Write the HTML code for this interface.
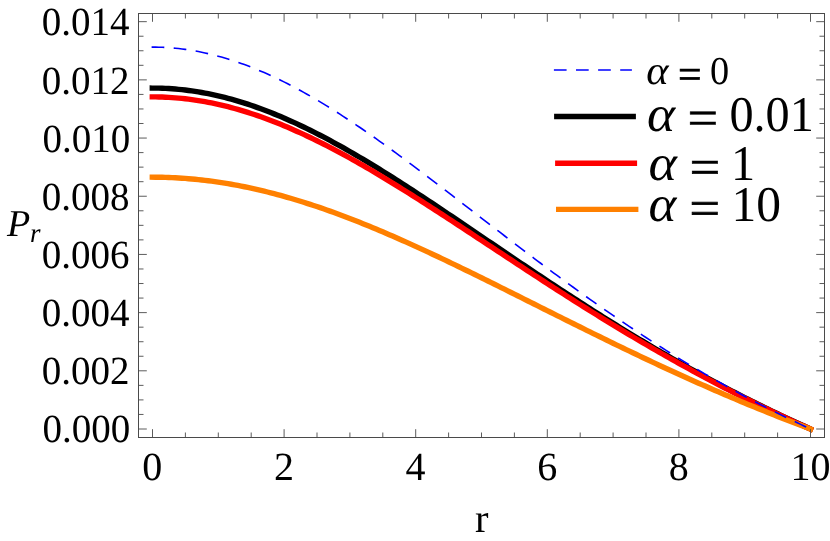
<!DOCTYPE html>
<html><head><meta charset="utf-8"><title>Pr vs r</title>
<style>
html,body{margin:0;padding:0;background:#fff;}
body{width:830px;height:541px;overflow:hidden;}
svg{display:block;will-change:transform;}
text{font-family:"Liberation Serif",serif;fill:#000;text-rendering:geometricPrecision;}
</style></head><body>
<svg width="830" height="541" viewBox="0 0 830 541">
<rect x="0" y="0" width="830" height="541" fill="#ffffff"/>
<path d="M152.30 88.08 L155.59 88.09 L158.88 88.15 L162.17 88.25 L165.46 88.39 L168.75 88.57 L172.05 88.78 L175.34 89.04 L178.63 89.33 L181.92 89.67 L185.21 90.04 L188.50 90.45 L191.79 90.90 L195.08 91.38 L198.37 91.91 L201.67 92.47 L204.96 93.07 L208.25 93.71 L211.54 94.39 L214.83 95.10 L218.12 95.85 L221.41 96.63 L224.70 97.46 L227.99 98.31 L231.28 99.21 L234.57 100.13 L237.87 101.10 L241.16 102.09 L244.45 103.12 L247.74 104.19 L251.03 105.29 L254.32 106.42 L257.61 107.58 L260.90 108.78 L264.19 110.00 L267.49 111.26 L270.78 112.55 L274.07 113.87 L277.36 115.22 L280.65 116.60 L283.94 118.01 L287.23 119.44 L290.52 120.91 L293.81 122.40 L297.10 123.92 L300.39 125.46 L303.69 127.04 L306.98 128.63 L310.27 130.25 L313.56 131.90 L316.85 133.57 L320.14 135.26 L323.43 136.98 L326.72 138.72 L330.01 140.48 L333.31 142.26 L336.60 144.07 L339.89 145.89 L343.18 147.73 L346.47 149.60 L349.76 151.48 L353.05 153.38 L356.34 155.29 L359.63 157.23 L362.92 159.18 L366.21 161.15 L369.51 163.13 L372.80 165.13 L376.09 167.14 L379.38 169.17 L382.67 171.21 L385.96 173.26 L389.25 175.33 L392.54 177.40 L395.83 179.49 L399.12 181.59 L402.42 183.71 L405.71 185.83 L409.00 187.96 L412.29 190.10 L415.58 192.25 L418.87 194.40 L422.16 196.57 L425.45 198.74 L428.74 200.92 L432.03 203.11 L435.33 205.30 L438.62 207.49 L441.91 209.70 L445.20 211.90 L448.49 214.12 L451.78 216.33 L455.07 218.55 L458.36 220.77 L461.65 223.00 L464.94 225.23 L468.24 227.46 L471.53 229.69 L474.82 231.92 L478.11 234.15 L481.40 236.39 L484.69 238.62 L487.98 240.86 L491.27 243.09 L494.56 245.32 L497.85 247.56 L501.15 249.79 L504.44 252.02 L507.73 254.24 L511.02 256.47 L514.31 258.69 L517.60 260.91 L520.89 263.13 L524.18 265.34 L527.47 267.56 L530.76 269.76 L534.06 271.97 L537.35 274.16 L540.64 276.36 L543.93 278.55 L547.22 280.73 L550.51 282.91 L553.80 285.08 L557.09 287.25 L560.38 289.42 L563.67 291.57 L566.97 293.72 L570.26 295.87 L573.55 298.01 L576.84 300.14 L580.13 302.26 L583.42 304.38 L586.71 306.49 L590.00 308.59 L593.29 310.69 L596.59 312.78 L599.88 314.86 L603.17 316.93 L606.46 319.00 L609.75 321.05 L613.04 323.10 L616.33 325.14 L619.62 327.18 L622.91 329.20 L626.20 331.22 L629.49 333.22 L632.79 335.22 L636.08 337.21 L639.37 339.19 L642.66 341.16 L645.95 343.12 L649.24 345.08 L652.53 347.02 L655.82 348.96 L659.11 350.88 L662.40 352.80 L665.70 354.71 L668.99 356.60 L672.28 358.49 L675.57 360.37 L678.86 362.24 L682.15 364.10 L685.44 365.95 L688.73 367.79 L692.02 369.62 L695.32 371.44 L698.61 373.25 L701.90 375.05 L705.19 376.84 L708.48 378.62 L711.77 380.40 L715.06 382.16 L718.35 383.91 L721.64 385.65 L724.93 387.38 L728.22 389.11 L731.52 390.82 L734.81 392.52 L738.10 394.22 L741.39 395.90 L744.68 397.57 L747.97 399.24 L751.26 400.89 L754.55 402.53 L757.84 404.17 L761.13 405.79 L764.43 407.41 L767.72 409.01 L771.01 410.61 L774.30 412.19 L777.59 413.77 L780.88 415.33 L784.17 416.89 L787.46 418.44 L790.75 419.98 L794.04 421.50 L797.34 423.02 L800.63 424.53 L803.92 426.03 L807.21 427.52 L810.50 429.00" fill="none" stroke="#000000" stroke-width="5.4" stroke-linejoin="round" stroke-linecap="square"/>
<path d="M152.30 96.90 L155.59 96.92 L158.88 96.97 L162.17 97.07 L165.46 97.20 L168.75 97.37 L172.05 97.58 L175.34 97.82 L178.63 98.11 L181.92 98.43 L185.21 98.78 L188.50 99.18 L191.79 99.61 L195.08 100.08 L198.37 100.58 L201.67 101.13 L204.96 101.70 L208.25 102.32 L211.54 102.97 L214.83 103.65 L218.12 104.37 L221.41 105.13 L224.70 105.92 L227.99 106.74 L231.28 107.60 L234.57 108.50 L237.87 109.42 L241.16 110.38 L244.45 111.37 L247.74 112.40 L251.03 113.46 L254.32 114.55 L257.61 115.67 L260.90 116.82 L264.19 118.00 L267.49 119.21 L270.78 120.45 L274.07 121.72 L277.36 123.02 L280.65 124.35 L283.94 125.71 L287.23 127.09 L290.52 128.50 L293.81 129.94 L297.10 131.41 L300.39 132.90 L303.69 134.41 L306.98 135.95 L310.27 137.52 L313.56 139.10 L316.85 140.72 L320.14 142.35 L323.43 144.01 L326.72 145.69 L330.01 147.38 L333.31 149.11 L336.60 150.85 L339.89 152.61 L343.18 154.39 L346.47 156.19 L349.76 158.00 L353.05 159.84 L356.34 161.69 L359.63 163.56 L362.92 165.45 L366.21 167.35 L369.51 169.27 L372.80 171.20 L376.09 173.15 L379.38 175.11 L382.67 177.08 L385.96 179.07 L389.25 181.07 L392.54 183.08 L395.83 185.10 L399.12 187.13 L402.42 189.18 L405.71 191.23 L409.00 193.30 L412.29 195.37 L415.58 197.45 L418.87 199.54 L422.16 201.64 L425.45 203.75 L428.74 205.86 L432.03 207.98 L435.33 210.11 L438.62 212.24 L441.91 214.38 L445.20 216.52 L448.49 218.67 L451.78 220.82 L455.07 222.97 L458.36 225.13 L461.65 227.29 L464.94 229.46 L468.24 231.62 L471.53 233.79 L474.82 235.96 L478.11 238.13 L481.40 240.30 L484.69 242.48 L487.98 244.65 L491.27 246.82 L494.56 249.00 L497.85 251.17 L501.15 253.34 L504.44 255.51 L507.73 257.68 L511.02 259.85 L514.31 262.01 L517.60 264.18 L520.89 266.34 L524.18 268.50 L527.47 270.65 L530.76 272.80 L534.06 274.95 L537.35 277.09 L540.64 279.23 L543.93 281.37 L547.22 283.50 L550.51 285.63 L553.80 287.75 L557.09 289.87 L560.38 291.98 L563.67 294.08 L566.97 296.18 L570.26 298.28 L573.55 300.37 L576.84 302.45 L580.13 304.53 L583.42 306.60 L586.71 308.66 L590.00 310.72 L593.29 312.77 L596.59 314.81 L599.88 316.84 L603.17 318.87 L606.46 320.89 L609.75 322.91 L613.04 324.91 L616.33 326.91 L619.62 328.90 L622.91 330.88 L626.20 332.86 L629.49 334.82 L632.79 336.78 L636.08 338.73 L639.37 340.67 L642.66 342.60 L645.95 344.53 L649.24 346.44 L652.53 348.35 L655.82 350.25 L659.11 352.13 L662.40 354.01 L665.70 355.89 L668.99 357.75 L672.28 359.60 L675.57 361.45 L678.86 363.28 L682.15 365.11 L685.44 366.92 L688.73 368.73 L692.02 370.53 L695.32 372.32 L698.61 374.10 L701.90 375.87 L705.19 377.63 L708.48 379.38 L711.77 381.12 L715.06 382.85 L718.35 384.58 L721.64 386.29 L724.93 387.99 L728.22 389.69 L731.52 391.37 L734.81 393.05 L738.10 394.72 L741.39 396.37 L744.68 398.02 L747.97 399.66 L751.26 401.29 L754.55 402.91 L757.84 404.52 L761.13 406.12 L764.43 407.71 L767.72 409.29 L771.01 410.86 L774.30 412.42 L777.59 413.98 L780.88 415.52 L784.17 417.05 L787.46 418.58 L790.75 420.10 L794.04 421.60 L797.34 423.10 L800.63 424.59 L803.92 426.07 L807.21 427.54 L810.50 429.00" fill="none" stroke="#ff0000" stroke-width="5.4" stroke-linejoin="round" stroke-linecap="square"/>
<path d="M152.30 177.19 L155.59 177.21 L158.88 177.24 L162.17 177.30 L165.46 177.39 L168.75 177.50 L172.05 177.64 L175.34 177.80 L178.63 177.99 L181.92 178.20 L185.21 178.43 L188.50 178.69 L191.79 178.98 L195.08 179.29 L198.37 179.62 L201.67 179.98 L204.96 180.36 L208.25 180.76 L211.54 181.19 L214.83 181.64 L218.12 182.12 L221.41 182.62 L224.70 183.14 L227.99 183.69 L231.28 184.26 L234.57 184.85 L237.87 185.47 L241.16 186.10 L244.45 186.76 L247.74 187.45 L251.03 188.15 L254.32 188.88 L257.61 189.63 L260.90 190.40 L264.19 191.19 L267.49 192.00 L270.78 192.83 L274.07 193.69 L277.36 194.56 L280.65 195.45 L283.94 196.37 L287.23 197.30 L290.52 198.26 L293.81 199.23 L297.10 200.22 L300.39 201.23 L303.69 202.26 L306.98 203.31 L310.27 204.37 L313.56 205.45 L316.85 206.56 L320.14 207.67 L323.43 208.81 L326.72 209.96 L330.01 211.13 L333.31 212.31 L336.60 213.51 L339.89 214.73 L343.18 215.96 L346.47 217.21 L349.76 218.47 L353.05 219.74 L356.34 221.03 L359.63 222.34 L362.92 223.65 L366.21 224.98 L369.51 226.33 L372.80 227.68 L376.09 229.05 L379.38 230.43 L382.67 231.83 L385.96 233.23 L389.25 234.65 L392.54 236.07 L395.83 237.51 L399.12 238.96 L402.42 240.42 L405.71 241.89 L409.00 243.37 L412.29 244.85 L415.58 246.35 L418.87 247.86 L422.16 249.37 L425.45 250.89 L428.74 252.42 L432.03 253.96 L435.33 255.50 L438.62 257.06 L441.91 258.62 L445.20 260.18 L448.49 261.75 L451.78 263.33 L455.07 264.92 L458.36 266.50 L461.65 268.10 L464.94 269.70 L468.24 271.30 L471.53 272.91 L474.82 274.53 L478.11 276.14 L481.40 277.76 L484.69 279.39 L487.98 281.02 L491.27 282.65 L494.56 284.28 L497.85 285.92 L501.15 287.56 L504.44 289.20 L507.73 290.84 L511.02 292.48 L514.31 294.13 L517.60 295.78 L520.89 297.43 L524.18 299.07 L527.47 300.72 L530.76 302.37 L534.06 304.02 L537.35 305.67 L540.64 307.32 L543.93 308.97 L547.22 310.62 L550.51 312.27 L553.80 313.92 L557.09 315.56 L560.38 317.21 L563.67 318.85 L566.97 320.49 L570.26 322.13 L573.55 323.77 L576.84 325.41 L580.13 327.04 L583.42 328.67 L586.71 330.30 L590.00 331.92 L593.29 333.55 L596.59 335.17 L599.88 336.78 L603.17 338.39 L606.46 340.00 L609.75 341.61 L613.04 343.21 L616.33 344.81 L619.62 346.40 L622.91 347.99 L626.20 349.58 L629.49 351.16 L632.79 352.74 L636.08 354.31 L639.37 355.88 L642.66 357.44 L645.95 359.00 L649.24 360.55 L652.53 362.10 L655.82 363.64 L659.11 365.18 L662.40 366.71 L665.70 368.24 L668.99 369.76 L672.28 371.27 L675.57 372.78 L678.86 374.28 L682.15 375.78 L685.44 377.27 L688.73 378.76 L692.02 380.24 L695.32 381.71 L698.61 383.18 L701.90 384.64 L705.19 386.09 L708.48 387.54 L711.77 388.98 L715.06 390.42 L718.35 391.85 L721.64 393.27 L724.93 394.68 L728.22 396.09 L731.52 397.49 L734.81 398.89 L738.10 400.28 L741.39 401.66 L744.68 403.03 L747.97 404.40 L751.26 405.76 L754.55 407.11 L757.84 408.45 L761.13 409.79 L764.43 411.12 L767.72 412.45 L771.01 413.77 L774.30 415.08 L777.59 416.38 L780.88 417.67 L784.17 418.96 L787.46 420.24 L790.75 421.51 L794.04 422.78 L797.34 424.04 L800.63 425.29 L803.92 426.53 L807.21 427.77 L810.50 429.00" fill="none" stroke="#ff8000" stroke-width="5.4" stroke-linejoin="round" stroke-linecap="square"/>
<path d="M151.60 47.11 L152.30 47.11 L155.59 47.13 L158.88 47.20 L162.17 47.32 L165.46 47.48 L168.75 47.68 L172.05 47.94 L175.34 48.23 L178.63 48.57 L181.92 48.96 L185.21 49.40 L188.50 49.87 L191.79 50.40 L195.08 50.96 L198.37 51.57 L201.67 52.23 L204.96 52.93 L208.25 53.67 L211.54 54.46 L214.83 55.28 L218.12 56.15 L221.41 57.07 L224.70 58.02 L227.99 59.02 L231.28 60.06 L234.57 61.14 L237.87 62.26 L241.16 63.41 L244.45 64.61 L247.74 65.85 L251.03 67.13 L254.32 68.44 L257.61 69.79 L260.90 71.18 L264.19 72.60 L267.49 74.06 L270.78 75.56 L274.07 77.09 L277.36 78.66 L280.65 80.26 L283.94 81.89 L287.23 83.56 L290.52 85.26 L293.81 86.99 L297.10 88.75 L300.39 90.54 L303.69 92.36 L306.98 94.21 L310.27 96.09 L313.56 97.99 L316.85 99.93 L320.14 101.89 L323.43 103.88 L326.72 105.89 L330.01 107.92 L333.31 109.99 L336.60 112.07 L339.89 114.18 L343.18 116.31 L346.47 118.46 L349.76 120.64 L353.05 122.83 L356.34 125.04 L359.63 127.28 L362.92 129.53 L366.21 131.80 L369.51 134.08 L372.80 136.39 L376.09 138.70 L379.38 141.04 L382.67 143.39 L385.96 145.75 L389.25 148.13 L392.54 150.52 L395.83 152.93 L399.12 155.34 L402.42 157.77 L405.71 160.20 L409.00 162.65 L412.29 165.11 L415.58 167.58 L418.87 170.05 L422.16 172.53 L425.45 175.02 L428.74 177.52 L432.03 180.02 L435.33 182.53 L438.62 185.05 L441.91 187.57 L445.20 190.09 L448.49 192.62 L451.78 195.15 L455.07 197.69 L458.36 200.22 L461.65 202.76 L464.94 205.30 L468.24 207.84 L471.53 210.39 L474.82 212.93 L478.11 215.47 L481.40 218.01 L484.69 220.55 L487.98 223.09 L491.27 225.63 L494.56 228.16 L497.85 230.70 L501.15 233.23 L504.44 235.75 L507.73 238.28 L511.02 240.80 L514.31 243.31 L517.60 245.82 L520.89 248.33 L524.18 250.83 L527.47 253.32 L530.76 255.81 L534.06 258.29 L537.35 260.77 L540.64 263.24 L543.93 265.70 L547.22 268.16 L550.51 270.61 L553.80 273.05 L557.09 275.48 L560.38 277.90 L563.67 280.32 L566.97 282.73 L570.26 285.13 L573.55 287.51 L576.84 289.90 L580.13 292.27 L583.42 294.63 L586.71 296.98 L590.00 299.32 L593.29 301.65 L596.59 303.97 L599.88 306.29 L603.17 308.59 L606.46 310.88 L609.75 313.16 L613.04 315.42 L616.33 317.68 L619.62 319.93 L622.91 322.16 L626.20 324.38 L629.49 326.59 L632.79 328.79 L636.08 330.98 L639.37 333.16 L642.66 335.32 L645.95 337.47 L649.24 339.62 L652.53 341.74 L655.82 343.86 L659.11 345.96 L662.40 348.05 L665.70 350.13 L668.99 352.20 L672.28 354.25 L675.57 356.29 L678.86 358.32 L682.15 360.34 L685.44 362.34 L688.73 364.33 L692.02 366.31 L695.32 368.27 L698.61 370.23 L701.90 372.17 L705.19 374.09 L708.48 376.01 L711.77 377.91 L715.06 379.80 L718.35 381.67 L721.64 383.53 L724.93 385.38 L728.22 387.22 L731.52 389.04 L734.81 390.85 L738.10 392.65 L741.39 394.44 L744.68 396.21 L747.97 397.97 L751.26 399.71 L754.55 401.45 L757.84 403.17 L761.13 404.88 L764.43 406.57 L767.72 408.26 L771.01 409.93 L774.30 411.59 L777.59 413.23 L780.88 414.86 L784.17 416.48 L787.46 418.09 L790.75 419.69 L794.04 421.27 L797.34 422.84 L800.63 424.40 L803.92 425.94 L807.21 427.48 L810.50 429.00" fill="none" stroke="#0000ff" stroke-width="1.6" stroke-linejoin="round" stroke-dasharray="12.7 9.44" stroke-linecap="butt"/>
<rect x="138.50" y="13.50" width="686.00" height="424.00" fill="none" stroke="#4a4a4a" stroke-width="1"/>
<path d="M152.50 437.50 V429.20 M152.50 13.50 V21.80 M185.40 437.50 V432.50 M185.40 13.50 V18.50 M218.30 437.50 V432.50 M218.30 13.50 V18.50 M251.20 437.50 V432.50 M251.20 13.50 V18.50 M284.10 437.50 V429.20 M284.10 13.50 V21.80 M317.00 437.50 V432.50 M317.00 13.50 V18.50 M349.90 437.50 V432.50 M349.90 13.50 V18.50 M382.80 437.50 V432.50 M382.80 13.50 V18.50 M415.70 437.50 V429.20 M415.70 13.50 V21.80 M448.60 437.50 V432.50 M448.60 13.50 V18.50 M481.50 437.50 V432.50 M481.50 13.50 V18.50 M514.40 437.50 V432.50 M514.40 13.50 V18.50 M547.30 437.50 V429.20 M547.30 13.50 V21.80 M580.20 437.50 V432.50 M580.20 13.50 V18.50 M613.10 437.50 V432.50 M613.10 13.50 V18.50 M646.00 437.50 V432.50 M646.00 13.50 V18.50 M678.90 437.50 V429.20 M678.90 13.50 V21.80 M711.80 437.50 V432.50 M711.80 13.50 V18.50 M744.70 437.50 V432.50 M744.70 13.50 V18.50 M777.60 437.50 V432.50 M777.60 13.50 V18.50 M810.50 437.50 V429.20 M810.50 13.50 V21.80 M138.50 429.00 H146.80 M824.50 429.00 H816.20 M138.50 414.45 H143.50 M824.50 414.45 H819.50 M138.50 399.90 H143.50 M824.50 399.90 H819.50 M138.50 385.36 H143.50 M824.50 385.36 H819.50 M138.50 370.81 H146.80 M824.50 370.81 H816.20 M138.50 356.26 H143.50 M824.50 356.26 H819.50 M138.50 341.72 H143.50 M824.50 341.72 H819.50 M138.50 327.17 H143.50 M824.50 327.17 H819.50 M138.50 312.62 H146.80 M824.50 312.62 H816.20 M138.50 298.07 H143.50 M824.50 298.07 H819.50 M138.50 283.52 H143.50 M824.50 283.52 H819.50 M138.50 268.98 H143.50 M824.50 268.98 H819.50 M138.50 254.43 H146.80 M824.50 254.43 H816.20 M138.50 239.88 H143.50 M824.50 239.88 H819.50 M138.50 225.34 H143.50 M824.50 225.34 H819.50 M138.50 210.79 H143.50 M824.50 210.79 H819.50 M138.50 196.24 H146.80 M824.50 196.24 H816.20 M138.50 181.69 H143.50 M824.50 181.69 H819.50 M138.50 167.14 H143.50 M824.50 167.14 H819.50 M138.50 152.60 H143.50 M824.50 152.60 H819.50 M138.50 138.05 H146.80 M824.50 138.05 H816.20 M138.50 123.50 H143.50 M824.50 123.50 H819.50 M138.50 108.96 H143.50 M824.50 108.96 H819.50 M138.50 94.41 H143.50 M824.50 94.41 H819.50 M138.50 79.86 H146.80 M824.50 79.86 H816.20 M138.50 65.31 H143.50 M824.50 65.31 H819.50 M138.50 50.76 H143.50 M824.50 50.76 H819.50 M138.50 36.22 H143.50 M824.50 36.22 H819.50 M138.50 21.67 H146.80 M824.50 21.67 H816.20" fill="none" stroke="#4a4a4a" stroke-width="0.9"/>
<text transform="translate(130.20 442.30) scale(0.975 1)" font-size="40" text-anchor="end">0.000</text>
<text transform="translate(129.60 384.17) scale(0.975 1)" font-size="40" text-anchor="end">0.002</text>
<text transform="translate(129.60 326.04) scale(0.975 1)" font-size="40" text-anchor="end">0.004</text>
<text transform="translate(129.60 267.92) scale(0.975 1)" font-size="40" text-anchor="end">0.006</text>
<text transform="translate(129.60 209.79) scale(0.975 1)" font-size="40" text-anchor="end">0.008</text>
<text transform="translate(130.20 151.66) scale(0.975 1)" font-size="40" text-anchor="end">0.010</text>
<text transform="translate(129.60 93.53) scale(0.975 1)" font-size="40" text-anchor="end">0.012</text>
<text transform="translate(129.60 35.40) scale(0.975 1)" font-size="40" text-anchor="end">0.014</text>
<text x="152.30" y="479.8" font-size="40" text-anchor="middle">0</text>
<text x="283.94" y="479.8" font-size="40" text-anchor="middle">2</text>
<text x="415.58" y="479.8" font-size="40" text-anchor="middle">4</text>
<text x="547.22" y="479.8" font-size="40" text-anchor="middle">6</text>
<text x="678.86" y="479.8" font-size="40" text-anchor="middle">8</text>
<text x="810.50" y="479.8" font-size="40" text-anchor="middle">10</text>
<text x="475" y="532" font-size="40.5">r</text>
<text x="7" y="235.9" font-size="38" font-style="italic">P</text>
<text x="30.1" y="241.6" font-size="27" font-style="italic">r</text>
<path d="M553.90 70.00 H631.90" stroke="#0000ff" stroke-width="1.7" fill="none" stroke-dasharray="12.7 9.4"/>
<path d="M554.10 116.50 H635.90" stroke="#000000" stroke-width="5.3" fill="none"/>
<path d="M555.10 163.25 H637.10" stroke="#ff0000" stroke-width="5.4" fill="none"/>
<path d="M556.00 209.40 H638.40" stroke="#ff8000" stroke-width="5.3" fill="none"/>
<text transform="translate(646.20 84.40) scale(1.050 1)" font-size="40.5" font-style="italic">α</text>
<text transform="translate(678.04 87.96) scale(1.009 1)" font-size="41.45" stroke="#000" stroke-width="0.64">=</text>
<text transform="translate(710.00 84.40) scale(0.970 1)" font-size="39.5">0</text>
<text transform="translate(647.00 131.00) scale(1.050 1)" font-size="51" font-style="italic">α</text>
<text transform="translate(687.59 134.96) scale(1.067 1)" font-size="50.94" stroke="#000" stroke-width="0.57">=</text>
<text transform="translate(729.40 131.20) scale(0.965 1)" font-size="50">0.01</text>
<text transform="translate(648.60 180.00) scale(1.060 1)" font-size="51" font-style="italic">α</text>
<text transform="translate(689.58 183.71) scale(1.088 1)" font-size="50.19" stroke="#000" stroke-width="0.55">=</text>
<text transform="translate(731.00 179.70) scale(0.965 1)" font-size="50">1</text>
<text transform="translate(648.60 221.00) scale(1.040 1)" font-size="51" font-style="italic">α</text>
<text transform="translate(689.45 225.33) scale(1.081 1)" font-size="49.94" stroke="#000" stroke-width="0.82">=</text>
<text transform="translate(731.60 221.00) scale(0.990 1)" font-size="50">10</text>
</svg>
</body></html>
